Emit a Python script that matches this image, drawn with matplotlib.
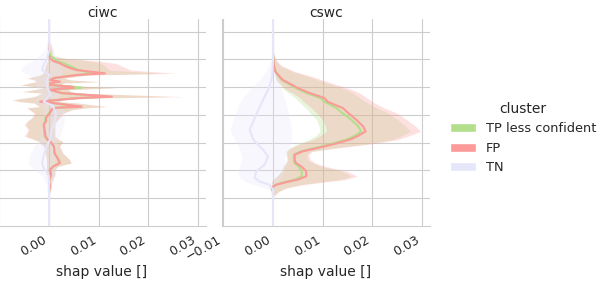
import matplotlib
matplotlib.use("Agg")
import matplotlib.pyplot as plt
from matplotlib.patches import Patch
import seaborn as sns

sns.set_style("whitegrid")
plt.rcParams['font.family'] = ['DejaVu Sans']

clusters = ["TP less confident", "FP", "TN"]
colors = ["#b2df8a", "#fb9a99", "#e6e6fa"]

# ---- ciwc ----
ciwc_y = [6.59, 6.34, 6.13, 6.04, 5.95, 5.86, 5.74, 5.62, 5.50, 5.44, 5.33, 5.26,
          5.20, 5.15, 5.08, 5.02, 4.98, 4.91, 4.84, 4.79, 4.66, 4.61, 4.55, 4.48,
          4.43, 4.30, 4.26, 4.19, 4.07, 3.90, 3.77, 3.65, 3.47, 3.23, 3.11, 3.05,
          2.87, 2.63, 2.39, 2.27, 2.15, 2.03, 1.85, 1.61, 1.43, 1.25, 1.20]
ciwc_fp_mean = [0.0000, 0.0000, 0.0000, 0.0002, 0.0008, 0.0022, 0.0035, 0.0055, 0.0113, 0.0056, 0.0009, 0.0003,
                0.0022, 0.0003, 0.0002, 0.0045, 0.0050, 0.0002, 0.0015, 0.0026, 0.0127, 0.0060, 0.0022, -0.0018,
                0.0008, 0.0066, 0.0014, 0.0005, 0.0002, -0.0006, -0.0006, -0.0011, -0.0009, -0.0007, -0.0003, 0.0002,
                0.0010, 0.0011, 0.0019, 0.0022, 0.0009, 0.0002, 0.0004, 0.0000, 0.0002, 0.0000, 0.0000]
ciwc_fp_lo = [0.0000, -0.0001, -0.0002, -0.0002, -0.0003, -0.0005, -0.0008, -0.0010, -0.0012, -0.0018, -0.0045, -0.0030,
              -0.0026, -0.0040, -0.0058, -0.0030, -0.0011, -0.0030, -0.0055, -0.0014, -0.0030, -0.0050, -0.0075, -0.0060,
              -0.0030, -0.0020, -0.0045, -0.0040, -0.0030, -0.0035, -0.0045, -0.0050, -0.0042, -0.0050, -0.0030, -0.0022,
              -0.0011, -0.0008, -0.0005, -0.0005, -0.0005, -0.0005, -0.0004, -0.0003, -0.0002, -0.0002, -0.0001]
ciwc_fp_hi = [0.0002, 0.0008, 0.0005, 0.0035, 0.0095, 0.0135, 0.0150, 0.0165, 0.0255, 0.0080, 0.0030, 0.0045,
              0.0105, 0.0030, 0.0025, 0.0090, 0.0137, 0.0040, 0.0045, 0.0060, 0.0275, 0.0090, 0.0030, 0.0020,
              0.0060, 0.0118, 0.0080, 0.0047, 0.0030, 0.0022, 0.0015, 0.0012, 0.0012, 0.0012, 0.0020, 0.0028,
              0.0022, 0.0028, 0.0042, 0.0045, 0.0018, 0.0012, 0.0012, 0.0006, 0.0005, 0.0003, 0.0002]
ciwc_tp_mean = [0.0000, 0.0000, 0.0003, 0.0010, 0.0015, 0.0030, 0.0045, 0.0060, 0.0090, 0.0056, 0.0010, 0.0004,
                0.0020, 0.0004, 0.0003, 0.0050, 0.0065, 0.0003, 0.0015, 0.0025, 0.0120, 0.0058, 0.0020, -0.0016,
                0.0008, 0.0062, 0.0013, 0.0005, 0.0000, -0.0007, -0.0008, -0.0010, -0.0010, -0.0009, -0.0003, 0.0002,
                0.0010, 0.0011, 0.0019, 0.0021, 0.0009, 0.0002, 0.0004, 0.0000, 0.0001, 0.0000, 0.0000]
ciwc_tp_lo = [0.0000, -0.0001, -0.0002, -0.0002, -0.0003, -0.0005, -0.0007, -0.0010, -0.0012, -0.0016, -0.0040, -0.0028,
              -0.0024, -0.0038, -0.0055, -0.0028, -0.0010, -0.0028, -0.0052, -0.0013, -0.0028, -0.0048, -0.0072, -0.0058,
              -0.0028, -0.0018, -0.0042, -0.0038, -0.0028, -0.0033, -0.0043, -0.0046, -0.0040, -0.0045, -0.0028, -0.0020,
              -0.0010, -0.0007, -0.0005, -0.0005, -0.0005, -0.0004, -0.0003, -0.0003, -0.0002, -0.0001, -0.0001]
ciwc_tp_hi = [0.0001, 0.0004, 0.0010, 0.0030, 0.0080, 0.0105, 0.0115, 0.0120, 0.0230, 0.0075, 0.0028, 0.0042,
              0.0100, 0.0028, 0.0024, 0.0088, 0.0130, 0.0038, 0.0042, 0.0058, 0.0250, 0.0085, 0.0028, 0.0018,
              0.0056, 0.0112, 0.0075, 0.0045, 0.0028, 0.0020, 0.0014, 0.0011, 0.0011, 0.0011, 0.0019, 0.0027,
              0.0021, 0.0027, 0.0041, 0.0044, 0.0017, 0.0011, 0.0011, 0.0005, 0.0004, 0.0002, 0.0001]

ciwc_tn_y = [7.44, 6.70, 6.34, 5.98, 5.80, 5.62, 5.44, 5.26, 4.98, 4.73, 4.48, 4.33, 4.07,
             3.72, 3.40, 3.11, 2.86, 2.51, 2.27, 2.10, 1.96, 1.78, 1.49, 1.13, 0.00]
ciwc_tn_mean = [0.0, 0.0, 0.0001, -0.0005, -0.0011, -0.0014, 0.0001, -0.0005, -0.0003, 0.0003, -0.0011, 0.0008, 0.0014,
                0.0011, 0.0004, 0.0002, -0.0005, -0.0011, -0.0014, -0.0011, -0.0005, 0.0000, 0.0000, 0.0, 0.0]
ciwc_tn_lo = [-0.0002, -0.0003, -0.0008, -0.0030, -0.0050, -0.0058, -0.0040, -0.0030, -0.0025, -0.0020, -0.0030, -0.0015, -0.0010,
              -0.0012, -0.0015, -0.0020, -0.0030, -0.0040, -0.0042, -0.0035, -0.0025, -0.0012, -0.0005, -0.0002, -0.0001]
ciwc_tn_hi = [0.0002, 0.0003, 0.0008, 0.0015, 0.0020, 0.0028, 0.0025, 0.0020, 0.0018, 0.0022, 0.0015, 0.0025, 0.0032,
              0.0030, 0.0025, 0.0018, 0.0015, 0.0012, 0.0010, 0.0012, 0.0015, 0.0012, 0.0005, 0.0002, 0.0001]

# ---- cswc ----
cswc_y = [6.23, 5.98, 5.77, 5.56, 5.41, 5.26, 5.12, 5.00, 4.91, 4.79, 4.61, 4.48,
          4.25, 4.07, 3.83, 3.59, 3.41, 3.25, 3.11, 2.96, 2.81, 2.69, 2.57, 2.39,
          2.27, 2.15, 1.97, 1.79, 1.67, 1.61, 1.49, 1.38, 1.24, 1.10]
cswc_fp_mean = [0.0000, 0.0001, 0.0002, 0.0005, 0.0012, 0.0020, 0.0035, 0.0047, 0.0058, 0.0074, 0.0104, 0.0110,
                0.0141, 0.0152, 0.0168, 0.0182, 0.0187, 0.0172, 0.0155, 0.0125, 0.0090, 0.0060, 0.0044, 0.0044,
                0.0046, 0.0057, 0.0067, 0.0067, 0.0050, 0.0034, 0.0007, -0.0003, 0.0000, 0.0000]
cswc_fp_lo = [0.0000, 0.0000, 0.0001, 0.0003, 0.0005, 0.0007, 0.0015, 0.0022, 0.0027, 0.0040, 0.0055, 0.0062,
              0.0078, 0.0088, 0.0100, 0.0106, 0.0108, 0.0095, 0.0080, 0.0055, 0.0036, 0.0028, 0.0028, 0.0030,
              0.0027, 0.0022, 0.0018, 0.0008, 0.0000, -0.0003, -0.0003, -0.0003, -0.0002, -0.0001]
cswc_fp_hi = [0.0000, 0.0006, 0.0018, 0.0045, 0.0075, 0.0100, 0.0125, 0.0145, 0.0160, 0.0175, 0.0190, 0.0200,
              0.0225, 0.0250, 0.0270, 0.0288, 0.0298, 0.0275, 0.0252, 0.0200, 0.0130, 0.0080, 0.0072, 0.0075,
              0.0085, 0.0105, 0.0150, 0.0170, 0.0145, 0.0115, 0.0062, 0.0030, 0.0012, 0.0003]
cswc_tp_mean = [0.0000, 0.0001, 0.0002, 0.0005, 0.0011, 0.0018, 0.0032, 0.0043, 0.0053, 0.0068, 0.0096, 0.0104,
                0.0128, 0.0140, 0.0158, 0.0172, 0.0178, 0.0165, 0.0148, 0.0118, 0.0085, 0.0057, 0.0042, 0.0042,
                0.0043, 0.0052, 0.0058, 0.0058, 0.0044, 0.0030, 0.0006, -0.0002, 0.0000, 0.0000]
cswc_tp_lo = [0.0000, 0.0000, 0.0001, 0.0002, 0.0004, 0.0006, 0.0012, 0.0018, 0.0022, 0.0032, 0.0045, 0.0052,
              0.0066, 0.0075, 0.0088, 0.0093, 0.0095, 0.0086, 0.0072, 0.0050, 0.0033, 0.0026, 0.0026, 0.0028,
              0.0025, 0.0020, 0.0016, 0.0007, 0.0000, -0.0002, -0.0003, -0.0003, -0.0002, -0.0001]
cswc_tp_hi = [0.0000, 0.0005, 0.0015, 0.0040, 0.0068, 0.0090, 0.0115, 0.0133, 0.0148, 0.0162, 0.0176, 0.0186,
              0.0210, 0.0232, 0.0252, 0.0268, 0.0278, 0.0260, 0.0240, 0.0190, 0.0125, 0.0076, 0.0068, 0.0070,
              0.0080, 0.0098, 0.0140, 0.0158, 0.0135, 0.0105, 0.0055, 0.0026, 0.0010, 0.0002]

cswc_tn_y = [7.44, 6.34, 5.98, 5.62, 5.26, 4.91, 4.55, 4.01, 3.47, 3.11,
             2.75, 2.50, 2.21, 1.96, 1.74, 1.60, 1.49, 1.31, 0.95, 0.00]
cswc_tn_mean = [0.0, 0.0, 0.0, -0.0001, -0.0003, -0.0010, -0.0020, -0.0034, -0.0047, -0.0040,
                -0.0020, -0.0010, -0.0017, -0.0034, -0.0037, -0.0027, -0.0007, 0.0, 0.0, 0.0]
cswc_tn_lo = [-0.0001, -0.0002, -0.0004, -0.0012, -0.0027, -0.0047, -0.0064, -0.0077, -0.0087, -0.0077,
              -0.0067, -0.0062, -0.0066, -0.0071, -0.0067, -0.0055, -0.0040, -0.0005, -0.0001, -0.0001]
cswc_tn_hi = [0.0001, 0.0002, 0.0003, 0.0005, 0.0010, 0.0017, 0.0024, 0.0032, 0.0037, 0.0037,
              0.0032, 0.0023, 0.0027, 0.0022, 0.0017, 0.0012, 0.0008, 0.0003, 0.0001, 0.0001]

panels = [
    ("ciwc", [(ciwc_y, ciwc_tp_mean, ciwc_tp_lo, ciwc_tp_hi),
              (ciwc_y, ciwc_fp_mean, ciwc_fp_lo, ciwc_fp_hi),
              (ciwc_tn_y, ciwc_tn_mean, ciwc_tn_lo, ciwc_tn_hi)]),
    ("cswc", [(cswc_y, cswc_tp_mean, cswc_tp_lo, cswc_tp_hi),
              (cswc_y, cswc_fp_mean, cswc_fp_lo, cswc_fp_hi),
              (cswc_tn_y, cswc_tn_mean, cswc_tn_lo, cswc_tn_hi)]),
]

fig = plt.figure(figsize=(6.07, 2.83), dpi=100)
ax1 = fig.add_axes([-0.0033, 0.2014, 0.3427, 0.7297])
ax2 = fig.add_axes([0.3657, 0.2014, 0.3427, 0.7297], sharex=ax1, sharey=ax1)

for ax, (name, series) in zip([ax1, ax2], panels):
    for (y, m, lo, hi), c in zip(series, colors):
        ax.fill_betweenx(y, lo, hi, color=c, alpha=0.3, lw=0, zorder=1)
        ax.plot(m, y, color=c, lw=1.5, zorder=2)
    ax.set_title(name, fontsize=10, pad=1.5)
    ax.set_xlabel("shap value []", fontsize=10, labelpad=1)
    ax.spines['top'].set_visible(False)
    ax.spines['right'].set_visible(False)
    ax.tick_params(labelleft=False, labelsize=9, pad=2)

ax1.set_xlim(-0.0103, 0.0317)
ax1.set_xticks([-0.01, 0.0, 0.01, 0.02, 0.03])
ax1.set_ylim(0, 7.44)
ax1.set_yticks(range(1, 8))

fig.canvas.draw()
for ax in [ax1, ax2]:
    plt.setp(ax.get_xticklabels(), rotation=30, ha='right')
# the left panel's -0.01 label falls outside the canvas in the original
ax1.get_xticklabels()[0].set_alpha(0)

handles = [Patch(facecolor=c, label=l) for l, c in zip(clusters, colors)]
fig.legend(handles=handles, title="cluster", loc="center left",
           bbox_to_anchor=(0.722, 0.513), frameon=False, fontsize=9.3, title_fontsize=10)

fig.savefig("out.png", dpi=100)
